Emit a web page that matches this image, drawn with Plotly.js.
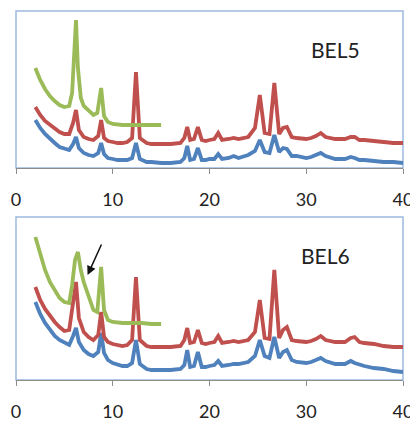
<!DOCTYPE html>
<html>
<head>
<meta charset="utf-8">
<script src="https://cdn.plot.ly/plotly-3.0.1.min.js"></script>
<style>html,body{margin:0;padding:0;background:#fff;}#chart{width:410px;height:421px;}</style>
</head>
<body>
<div id="chart"></div>
<script>
// 2-theta positions (degrees) for the full-range patterns
var twoTheta = [2, 2.5, 3, 3.5, 4, 4.5, 5, 5.5, 5.9, 6.2, 6.5, 7, 7.5, 8, 8.5, 8.8, 9.1, 9.5, 10, 10.5, 11, 11.5, 12, 12.4, 12.8, 13.5, 14, 15, 16, 17, 17.4, 17.7, 18.0, 18.4, 18.8, 19.2, 19.6, 20, 20.5, 20.9, 21.3, 22, 22.5, 23, 24, 24.7, 25.2, 25.7, 26.2, 26.7, 27.2, 27.6, 28, 28.5, 29, 30, 30.5, 31, 31.5, 32, 33, 34, 34.6, 35, 35.5, 36, 37, 38, 39, 40];

// BEL5 panel
var bel5Blue = [48, 40, 34, 29, 25, 21, 19, 18, 24, 31, 20, 15, 13, 12, 15, 25, 14, 10, 9, 8, 8, 8, 10, 25, 9, 6, 6, 5, 5, 6, 10, 22, 8, 9, 20, 8, 8, 9, 9, 14, 9, 10, 12, 10, 13, 17, 28, 16, 15, 33, 16, 20, 19, 12, 12, 10, 11, 13, 15, 12, 9, 9, 11, 10, 8, 8, 7, 6, 6, 5];
var bel5Red = [61, 53, 47, 43, 39, 36, 34, 34, 45, 58, 38, 31, 29, 28, 32, 48, 30, 27, 26, 25, 25, 26, 30, 96, 30, 25, 24, 24, 24, 25, 30, 41, 28, 29, 41, 28, 27, 28, 29, 35, 28, 29, 30, 29, 31, 40, 73, 35, 34, 85, 34, 40, 41, 31, 30, 29, 30, 32, 35, 31, 29, 29, 31, 31, 28, 28, 27, 26, 25, 25];
var bel5GreenX = [2, 2.5, 3, 3.5, 4, 4.5, 5, 5.5, 5.8, 6.0, 6.2, 6.4, 6.7, 7, 7.5, 8, 8.4, 8.8, 9.1, 9.5, 10, 11, 12, 13, 14, 15];
var bel5Green = [100, 88, 79, 72, 67, 63, 61, 62, 75, 110, 148, 100, 70, 62, 57, 53, 55, 80, 52, 46, 44, 43, 43, 43, 43, 43];

// BEL6 panel
var bel6Blue = [78, 66, 57, 50, 44, 40, 37, 35, 44, 52, 38, 30, 26, 24, 28, 47, 27, 20, 17, 15, 14, 14, 17, 40, 16, 11, 10, 10, 10, 11, 15, 30, 13, 14, 28, 13, 13, 14, 15, 19, 14, 15, 16, 16, 18, 24, 40, 24, 22, 43, 22, 28, 30, 20, 18, 17, 18, 20, 22, 19, 16, 16, 19, 17, 15, 14, 12, 11, 9, 8];
var bel6Red = [93, 80, 71, 64, 58, 53, 49, 50, 75, 98, 62, 48, 43, 40, 45, 68, 43, 38, 36, 35, 34, 35, 40, 103, 40, 34, 33, 33, 33, 34, 40, 52, 37, 38, 50, 37, 36, 37, 38, 44, 37, 38, 39, 38, 40, 48, 80, 42, 41, 110, 42, 50, 53, 40, 39, 38, 39, 41, 44, 40, 38, 38, 42, 43, 38, 37, 36, 34, 33, 33];
var bel6GreenX = [2, 2.5, 3, 3.5, 4, 4.5, 5, 5.5, 5.8, 6.1, 6.4, 6.7, 7, 7.3, 7.6, 8, 8.4, 8.8, 9.1, 9.5, 10, 11, 12, 13, 14, 15];
var bel6Green = [143, 125, 110, 98, 89, 82, 78, 77, 95, 120, 128, 110, 98, 90, 80, 70, 68, 113, 70, 60, 58, 57, 57, 57, 56, 56];

var xTicks = [0, 10, 20, 30, 40];
var panelLabels = ["BEL5", "BEL6"];

var BLUE = "#4F81BD", RED = "#C0504D", GREEN = "#9BBB59";
function line(x, y, c, xa, ya) {
  return {x: x, y: y, type: "scatter", mode: "lines", xaxis: xa, yaxis: ya,
    line: {color: c, width: 3.8}, hoverinfo: "skip", showlegend: false};
}
var data = [
  line(twoTheta, bel5Blue, BLUE, "x", "y"),
  line(twoTheta, bel5Red, RED, "x", "y"),
  line(bel5GreenX, bel5Green, GREEN, "x", "y"),
  line(twoTheta, bel6Blue, BLUE, "x2", "y2"),
  line(twoTheta, bel6Red, RED, "x2", "y2"),
  line(bel6GreenX, bel6Green, GREEN, "x2", "y2")
];

var W = 410, H = 421;
var xd = [16 / W, 403 / W];
var y1d = [1 - 168 / H, 1 - 11 / H];
var y2d = [1 - 380 / H, 1 - 217 / H];
var fontFam = "Lato, 'Open Sans', sans-serif";

function xax(anchor) {
  return {domain: xd, anchor: anchor, range: [0, 40], tickvals: xTicks, ticktext: xTicks.map(String),
    showgrid: false, zeroline: false, showline: true, linecolor: "#8c8c8c", linewidth: 1,
    ticks: "outside", ticklen: 5, tickcolor: "#8c8c8c", ticklabelstandoff: 10,
    ticklabeloverflow: "allow", automargin: false,
    tickfont: {family: fontFam, size: 18, color: "#222"}};
}
function yax(anchor, dom, top) {
  return {domain: dom, anchor: anchor, range: [0, top], showgrid: false, zeroline: false,
    showline: false, showticklabels: false, ticks: ""};
}

var layout = {
  width: W, height: H, margin: {l: 0, r: 0, t: 0, b: 0},
  paper_bgcolor: "#fff", plot_bgcolor: "#fff",
  xaxis: xax("y"), yaxis: yax("x", y1d, 157),
  xaxis2: xax("y2"), yaxis2: yax("x2", y2d, 163),
  shapes: [
    {type: "rect", xref: "paper", yref: "paper", x0: xd[0], x1: xd[1], y0: y1d[0], y1: y1d[1],
      line: {color: "#9DB9E0", width: 1.5}, layer: "below"},
    {type: "rect", xref: "paper", yref: "paper", x0: xd[0], x1: xd[1], y0: y2d[0], y1: y2d[1],
      line: {color: "#9DB9E0", width: 1.5}, layer: "below"}
  ],
  annotations: [
    {text: panelLabels[0], xref: "paper", yref: "paper", x: 335 / W, y: 1 - 50 / H,
      xanchor: "center", yanchor: "middle",
      showarrow: false, font: {family: fontFam, size: 21, color: "#222"}},
    {text: panelLabels[1], xref: "paper", yref: "paper", x: 325 / W, y: 1 - 255 / H,
      xanchor: "center", yanchor: "middle",
      showarrow: false, font: {family: fontFam, size: 21, color: "#222"}},
    {text: "", xref: "x2", yref: "y2", x: 7.4, y: 105, axref: "x2", ayref: "y2", ax: 8.9, ay: 137,
      showarrow: true, arrowhead: 2, arrowsize: 1.2, arrowwidth: 1.5, arrowcolor: "#111"}
  ]
};
Plotly.newPlot("chart", data, layout, {staticPlot: true, displayModeBar: false});
</script>
</body>
</html>
